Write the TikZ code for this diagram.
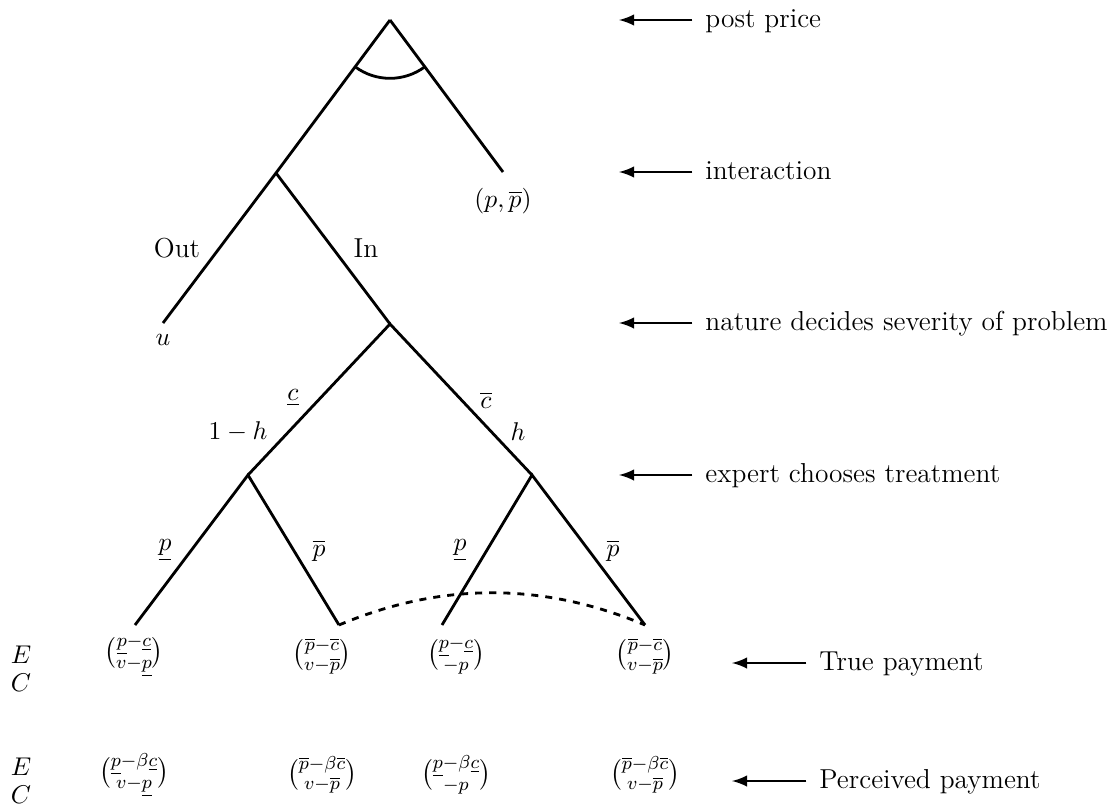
\documentclass[tikz,border=0pt,11pt]{standalone}
\usepackage{amsmath}
\usetikzlibrary{arrows}

\begin{document}
\begin{tikzpicture}[x=0.015cm,y=-0.015cm,>=latex,line width=1.2pt,
	txt/.style={font=\fontsize{11.7}{14}\selectfont},
	lvl/.style={txt,anchor=west,inner sep=0pt,text height=1.6ex,text depth=.25ex},
	pay/.style={inner sep=0pt}]
	\useasboundingbox (0,0) rectangle (1120,807);
	% knoten des baums
	\coordinate (root) at (390,20);
	\coordinate (intr) at (276,173);
	\coordinate (post) at (503,172);
	\coordinate (out) at (163,323);
	\coordinate (nat) at (390,324);
	\coordinate (lo) at (248,475);
	\coordinate (hi) at (532,475);
	\coordinate (lolo) at (135,625);
	\coordinate (lohi) at (339,625);
	\coordinate (hilo) at (442,625);
	\coordinate (hihi) at (645,625);
	\draw (root) -- (intr) -- (out);
	\draw (root) -- (post);
	\draw (intr) -- (nat);
	\draw (lo) -- (nat) -- (hi);
	\draw (lolo) -- (lo) -- (lohi);
	\draw (hilo) -- (hi) -- (hihi);
	\draw (root) ++(233.5:0.875cm) arc[start angle=233.5,end angle=306.5,radius=0.875cm];
	% informationsmenge
	\draw[dashed] (lohi) .. controls (441,582) and (543,582) .. (hihi);
	% kantenlabels
	\node[txt] (lOut) at (177,248) {Out};
	\node[txt] (lIn) at (366,248) {In};
	\node (lu) at (163,340) {$u$};
	\node (lpp) at (503,201) {$(p,\overline{p})$};
	\node (lcl) at (293,398) {$\underline{c}$};
	\node (lhl) at (238,432) {$1-h$};
	\node (lch) at (486,400) {$\overline{c}$};
	\node (lhh) at (518,432) {$h$};
	\node (lp1) at (165,550) {$\underline{p}$};
	\node (lp2) at (319,551) {$\overline{p}$};
	\node (lp3) at (460,550) {$\underline{p}$};
	\node (lp4) at (613,551) {$\overline{p}$};
	% stufen
	\foreach \y/\txt [count=\i] in {20/post price,172/interaction,323/nature decides severity of problem,475/expert chooses treatment}{
		\node[lvl] (lvl\i) at (704,\y) {\txt};
		\coordinate (tip\i) at (619,\y);
		\draw[->] ([xshift=-5pt]lvl\i.west) -- (tip\i);
	}
	% auszahlungen
	\node[pay] (tv1) at (134,656) {$\binom{\underline{p}-\underline{c}}{v-\underline{p}}$};
	\node[pay] (tv2) at (322,656) {$\binom{\overline{p}-\overline{c}}{v-\overline{p}}$};
	\node[pay] (tv3) at (456,656) {$\binom{\underline{p}-\underline{c}}{-p}$};
	\node[pay] (tv4) at (645,656) {$\binom{\overline{p}-\overline{c}}{v-\overline{p}}$};
	\node[pay] (pv1) at (134,775) {$\binom{\underline{p}-\beta\underline{c}}{v-\underline{p}}$};
	\node[pay] (pv2) at (322,775) {$\binom{\overline{p}-\beta\overline{c}}{v-\overline{p}}$};
	\node[pay] (pv3) at (456,775) {$\binom{\underline{p}-\beta\underline{c}}{-p}$};
	\node[pay] (pv4) at (645,775) {$\binom{\overline{p}-\beta\overline{c}}{v-\overline{p}}$};
	\node (tE) at (21,655) {$E$};
	\node (tC) at (21,683) {$C$};
	\node (pE) at (21,767) {$E$};
	\node (pC) at (21,795) {$C$};
	\node[lvl] (ltrue) at (818,663) {True payment};
	\coordinate (ttrue) at (732,663);
	\draw[->] ([xshift=-5pt]ltrue.west) -- (ttrue);
	\node[lvl] (lperc) at (818,781) {Perceived payment};
	\coordinate (tperc) at (732,781);
	\draw[->] ([xshift=-5pt]lperc.west) -- (tperc);
\end{tikzpicture}
\end{document}
